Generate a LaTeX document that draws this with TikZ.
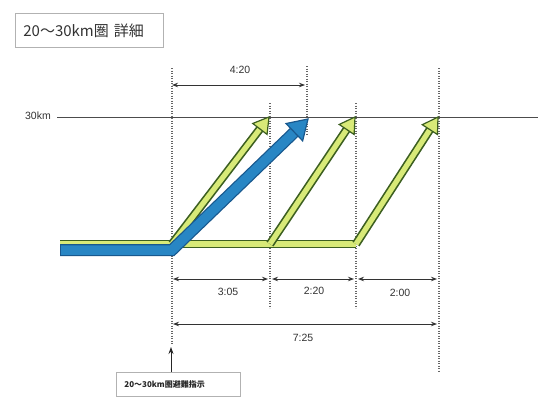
\documentclass[tikz,border=0pt]{standalone}
\usepackage{fontspec}
\setmainfont{Liberation Sans}
\newfontfamily\jpfont{Noto Sans CJK JP}
\usetikzlibrary{calc,arrows.meta}
\definecolor{gfill}{RGB}{216,234,120}
\definecolor{gline}{RGB}{60,95,32}
\definecolor{bfill}{RGB}{40,134,196}
\definecolor{bline}{RGB}{24,88,142}
\newcommand{\fatshaft}[6]{% start, headbase, outer width, inner width, line colour, fill colour
  \draw[#5, line width=#3, line cap=butt, line join=miter] #1 -- #2;
  \draw[#6, line width=#4, line cap=butt, line join=miter] #1 -- #2;}
\newcommand{\fathead}[5]{% base, tip, half width, line colour, fill colour
  \filldraw[fill=#5, draw=#4, line width=1.2pt, line join=miter]
    ($#1!#3!90:#2$) -- #2 -- ($#1!#3!-90:#2$) -- cycle;}
\begin{document}
\begin{tikzpicture}[x=1pt,y=-1pt,
  dim/.style={{Stealth[length=6pt,width=4.5pt]}-{Stealth[length=6pt,width=4.5pt]}, line width=0.9pt, draw=black!80},
  guide/.style={draw=black!60, line width=1.1pt, dash pattern=on 1.2pt off 1.3pt},
  lbl/.style={font=\fontsize{10.5}{12}\selectfont, text=black!80, inner sep=1pt},
  boxnote/.style={draw=black!30, line width=0.8pt, inner ysep=0pt, align=left}]
\useasboundingbox (0,0) rectangle (538,416);
\fill[white] (0,0) rectangle (538,416);

% title
\node[boxnote, anchor=north west, inner xsep=8pt, text width=132pt, minimum height=34pt,
      font=\jpfont\fontsize{15}{17}\selectfont, text=black!80] (title) at (15,13) {20～30km圏 詳細};

% 30km line
\node[lbl, anchor=east] (km30) at (52,116) {30km};
\coordinate (lineL) at (57,117);
\coordinate (lineR) at (538,117);
\draw[black!70, line width=0.9pt] (lineL) -- (lineR);

% guides
\coordinate (v1t) at (172,68);  \coordinate (v1b) at (172,345);
\coordinate (v2t) at (270,103); \coordinate (v2b) at (270,308);
\coordinate (v3t) at (307,66);  \coordinate (v3b) at (307,135);
\coordinate (v4t) at (356,103); \coordinate (v4b) at (356,308);
\coordinate (v5t) at (439,68);  \coordinate (v5b) at (439,372);
\foreach \a/\b in {v1t/v1b, v2t/v2b, v3t/v3b, v4t/v4b, v5t/v5b} \draw[guide] (\a) -- (\b);

% arrows geometry
\coordinate (g0) at (60,244);
\coordinate (j1) at (172,244);
\coordinate (j2) at (270,244);
\coordinate (j3) at (356,244);
\coordinate (t1) at (269,117);
\coordinate (t2) at (355,117);
\coordinate (t3) at (438,117);
\coordinate (b0) at (60,250);
\coordinate (bj) at (172,250);
\coordinate (bt) at (308,119);
\coordinate (h1) at ($(t1)!15pt!(j1)$);
\coordinate (h2) at ($(t2)!15pt!(j2)$);
\coordinate (h3) at ($(t3)!15pt!(j3)$);
\coordinate (hb) at ($(bt)!19pt!(bj)$);

% green horizontal
\fatshaft{(g0)}{(j3)}{8.5pt}{5.2pt}{gline}{gfill}
% blue horizontal
\fatshaft{(b0)}{(bj)}{12pt}{9.5pt}{bline}{bfill}
% green diagonals
\fatshaft{(j1)}{(h1)}{8.5pt}{5.2pt}{gline}{gfill}
\fathead{(h1)}{(t1)}{9pt}{gline}{gfill}
\fatshaft{(j2)}{(h2)}{8.5pt}{5.2pt}{gline}{gfill}
\fathead{(h2)}{(t2)}{9pt}{gline}{gfill}
\fatshaft{(j3)}{(h3)}{8.5pt}{5.2pt}{gline}{gfill}
\fathead{(h3)}{(t3)}{9pt}{gline}{gfill}
% blue diagonal
\draw[bline, line width=12pt, line join=miter] (b0) -- (bj) -- (hb);
\draw[bfill, line width=9.5pt, line join=miter] ($(b0)+(1.2,0)$) -- (bj) -- (hb);
\fathead{(hb)}{(bt)}{12pt}{bline}{bfill}

% dimensions
\coordinate (d0a) at (172,85); \coordinate (d0b) at (305,85);
\draw[dim] (d0a) -- (d0b);
\node[lbl] (l420) at (240,70) {4:20};
\coordinate (d1a) at (173,279); \coordinate (d1b) at (268,279);
\coordinate (d2a) at (272,279); \coordinate (d2b) at (354,279);
\coordinate (d3a) at (358,279); \coordinate (d3b) at (437,279);
\draw[dim] (d1a) -- (d1b);
\draw[dim] (d2a) -- (d2b);
\draw[dim] (d3a) -- (d3b);
\node[lbl] (l305) at (228,292) {3:05};
\node[lbl] (l220) at (314,291) {2:20};
\node[lbl] (l200) at (400,293) {2:00};
\coordinate (d4a) at (173,324); \coordinate (d4b) at (437,324);
\draw[dim] (d4a) -- (d4b);
\node[lbl] (l725) at (303,338) {7:25};

% bottom note
\node[boxnote, anchor=north west, inner xsep=8pt, text width=108pt, minimum height=24pt,
      font=\jpfont\fontsize{8}{9}\selectfont\bfseries, text=black!85] (note) at (116,372) {20～30km圏避難指示};
\coordinate (arTip) at (171,347);
\draw[-{Stealth[length=7pt,width=5pt]}, line width=0.9pt, black!85] (note.north -| arTip) -- (arTip);
\end{tikzpicture}
\end{document}
